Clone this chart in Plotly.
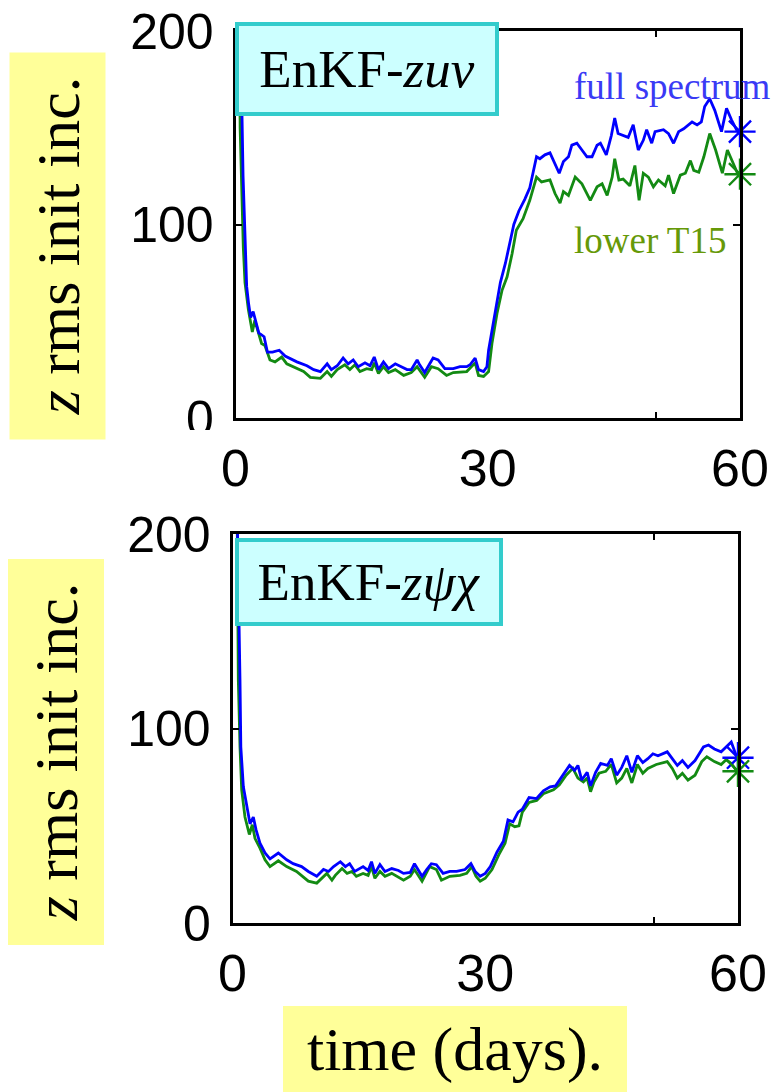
import plotly.graph_objects as go

# ---------------- data ----------------
# Panel 1: EnKF-zuv
t_zuv_full = [0.25, 0.6, 0.9, 1.13, 1.33, 1.56, 1.8, 2.1, 2.49, 2.77, 3.4, 3.8, 4.4, 5.2, 5.9, 7.3, 8.5, 9.3, 10.1, 10.9,
              11.4, 12.1, 12.8, 13.4, 14.0, 14.6, 15.4, 16.0, 16.5, 17.0, 17.6, 18.2, 19.0, 19.8, 20.4, 20.9, 21.6, 21.9, 22.5, 23.1,
              23.5, 24.1, 24.9, 25.9, 26.7, 27.5, 27.9, 28.5, 28.9, 29.5, 29.9, 30.1, 30.5, 31.1, 31.5, 32.1, 32.7, 33.1, 33.7, 34.4,
              35.0, 35.8, 36.2, 36.8, 37.4, 38.0, 38.5, 39.0, 39.6, 40.0, 40.6, 41.2, 41.8, 42.4, 43.0, 43.4, 44.1, 44.7, 45.1, 45.5,
              46.1, 46.7, 47.3, 47.9, 48.5, 48.9, 49.5, 49.9, 50.9, 51.5, 52.1, 52.7, 53.3, 53.9, 54.3, 54.9, 55.4, 55.8, 56.4, 57.0,
              57.8, 58.4, 59.0, 59.7]
z_zuv_full = [400, 200, 125, 93, 68, 59, 52, 55, 48, 44, 42, 34, 34, 35, 32, 29, 27, 25, 24, 28,
              25, 27, 31, 28, 30, 26.5, 28.5, 27, 31.5, 25, 29, 25.5, 28, 26.5, 25, 25, 30, 27.5, 23.5, 28,
              31, 30, 25.5, 25.5, 26.5, 26.5, 27.5, 31, 25, 24, 26.5, 35, 45, 59, 70, 80, 92, 100, 107, 113,
              119, 135, 134, 136, 137, 131.5, 126.5, 132.5, 135, 141, 142, 138.5, 135, 135, 141, 142, 136, 146, 155, 147,
              146, 145, 151.5, 138.5, 143.5, 149, 142, 148, 149, 147, 142, 148, 149.5, 151.5, 153, 151.5, 153, 161, 165, 159,
              148, 160, 154, 148]

t_zuv_low = [0.25, 0.55, 0.93, 1.13, 1.53, 2.0, 2.3, 2.7, 3.1, 3.5, 4.1, 4.7, 5.5, 6.1, 7.3, 8.1, 8.9, 10.1, 10.9, 11.4,
             12.1, 13.0, 13.6, 14.2, 14.8, 15.6, 16.2, 16.5, 17.0, 17.6, 18.2, 19.0, 20.0, 20.9, 21.6, 22.5, 23.3, 24.1, 25.1, 25.9,
             27.5, 28.0, 28.5, 28.9, 29.5, 30.1, 30.5, 31.1, 31.7, 32.3, 32.9, 33.4, 34.2, 35.0, 35.8, 36.4, 37.4, 38.0, 38.6, 39.0,
             39.6, 40.4, 41.2, 42.2, 43.0, 43.6, 44.2, 44.8, 45.1, 45.6, 46.1, 46.9, 47.5, 48.0, 48.5, 49.1, 49.7, 50.3, 51.1, 51.5,
             52.1, 52.9, 53.5, 54.1, 54.5, 55.1, 55.7, 56.4, 57.1, 57.9, 58.5, 59.2, 59.7]
z_zuv_low = [400, 150, 88, 70, 56, 44.5, 50.5, 44, 38.5, 37.5, 30, 29, 31.5, 28, 25.5, 24, 21, 20.5, 24, 21.5,
             25, 27.5, 25, 27.5, 24, 25.5, 25, 28.5, 23, 26.5, 23.5, 25, 22, 23.5, 26.5, 21, 26.5, 25.5, 22, 23.5,
             24, 26.5, 28.5, 22, 21.5, 24, 38.5, 54, 66, 73, 85, 97, 103, 112.5, 124.5, 122, 123, 116, 111, 117,
             115, 124.5, 121, 112.5, 119.5, 121, 115, 124.5, 134, 123, 123.5, 120, 130.5, 112.5, 126.5, 124.5, 119.5, 123, 120, 125.5,
             116, 125.5, 126.5, 133, 128, 127, 135, 147, 138.5, 126.5, 138.5, 131.5, 126.5]

# Panel 2: EnKF-z psi chi
t_zpc_full = [0.25, 0.6, 0.89, 0.99, 1.29, 1.68, 2.08, 2.47, 2.79, 3.26, 3.86, 4.45, 5.44, 6.43, 7.2, 8.2, 9.0, 10.0, 10.8, 11.4,
              12.0, 12.8, 13.4, 13.9, 14.5, 15.5, 16.1, 16.5, 16.9, 17.5, 18.1, 18.9, 19.7, 20.3, 21.1, 21.6, 22.5, 23.05, 23.6, 24.2,
              25.0, 25.8, 26.6, 27.6, 28.3, 28.8, 29.4, 30.0, 30.6, 31.4, 32.15, 32.7, 33.3, 33.9, 34.4, 35.2, 36.1, 36.9, 37.7, 38.35,
              39.2, 40.0, 40.6, 41.0, 41.45, 42.1, 42.5, 43.1, 43.7, 44.5, 44.96, 45.6, 46.2, 46.8, 47.4, 48.06, 48.7, 49.3, 49.9, 50.5,
              51.6, 52.2, 52.8, 53.4, 54.06, 54.9, 55.9, 56.5, 57.2, 58.0, 58.6, 59.2, 59.8]
z_zpc_full = [400, 200, 125, 90.5, 70, 60, 51, 54.5, 48, 41, 36, 33, 36, 32.5, 30.5, 29, 26.5, 24, 27.5, 26.5,
              29, 31.5, 29, 30.5, 26.5, 29, 27, 31.5, 25.5, 30, 26.5, 28, 27, 25.5, 26, 30.5, 24, 27.5, 30.5, 30,
              25.5, 26.5, 26.5, 27.5, 30.5, 26.5, 24, 25.5, 29, 36.5, 42, 53, 52, 57, 58.5, 64.5, 64, 68, 70, 70.5,
              76, 81, 78.5, 81, 73.5, 77.5, 70.5, 77.5, 82, 81, 84.5, 76, 80, 86, 77.5, 86, 82.5, 84.5, 87, 86,
              88, 84.5, 81, 83.5, 80, 83.5, 90.5, 91.5, 89.5, 88, 90.5, 93, 86]

t_zpc_low = [0.25, 0.55, 0.69, 0.89, 1.09, 1.48, 2.0, 2.35, 2.67, 3.26, 3.86, 4.45, 5.44, 6.43, 7.6, 9.0, 10.0, 11.2, 11.8, 12.2,
             13.0, 13.6, 14.2, 14.7, 15.5, 16.1, 16.5, 16.9, 17.5, 18.1, 18.9, 20.3, 21.1, 21.6, 22.5, 23.4, 24.2, 24.8, 25.8, 27.0,
             27.8, 28.4, 28.9, 29.4, 30.0, 30.8, 31.6, 32.35, 32.9, 33.5, 34.0, 34.4, 35.2, 36.1, 36.9, 38.1, 38.8, 39.6, 40.4, 41.0,
             41.65, 42.1, 42.5, 42.9, 43.5, 44.3, 44.96, 45.6, 46.2, 46.8, 47.4, 48.06, 48.7, 49.3, 50.3, 51.6, 52.2, 52.8, 53.4, 54.06,
             54.9, 55.7, 56.3, 57.2, 58.0, 58.6, 59.2, 59.8]
z_zpc_low = [400, 200, 125, 90.5, 68.5, 54.5, 45.5, 50.5, 43.5, 38.5, 32.5, 29, 32, 29, 26.5, 21.5, 20.5, 25.5, 22, 24.5,
             28, 25.5, 26.5, 24, 25.5, 24.5, 29, 23, 26.5, 24, 25.5, 22, 24, 27.5, 21.5, 29, 27.5, 22, 24, 24.5,
             25.5, 29, 24, 21.5, 23, 27.5, 35, 41, 51, 49.5, 50, 57, 62, 63, 66.5, 68.5, 71, 76, 79.5, 74.5,
             72.5, 74.5, 67.5, 72.5, 77, 78, 81.5, 72, 74.5, 79.5, 72, 81.5, 77, 79.5, 81.5, 83, 79.5, 74.5, 77, 73.5,
             76, 83, 85.5, 83, 81.5, 84, 82, 78.5]

# end-point markers (asterisks at day 60)
end_day = [60, 60]
end_zuv = [148, 126]      # full spectrum, lower T15
end_zpc = [85, 78]

assert len(t_zuv_full) == len(z_zuv_full)
assert len(t_zuv_low) == len(z_zuv_low)
assert len(t_zpc_full) == len(z_zpc_full)
assert len(t_zpc_low) == len(z_zpc_low)

x_tickvals = [0, 30, 60]
x_ticktext = ["0", "30", "60"]
y_tickvals = [0, 100, 200]
y_ticktext = ["0", "100", "200"]

# ---------------- styling ----------------
W, H = 776, 1092
BLUE = "#0000FF"
GREEN = "#138A13"
SERIF = "Liberation Serif, Times New Roman, serif"
SANS = "Liberation Sans, Arial, Helvetica, sans-serif"


def px(x):
    return x / W


def py(y):
    return 1 - y / H


fig = go.Figure()

panels = [
    ("x", "y", t_zuv_full, z_zuv_full, t_zuv_low, z_zuv_low, end_zuv),
    ("x2", "y2", t_zpc_full, z_zpc_full, t_zpc_low, z_zpc_low, end_zpc),
]
for xa, ya, tf, zf, tl, zl, ends in panels:
    fig.add_trace(go.Scatter(x=tl, y=zl, mode="lines", line=dict(color=GREEN, width=2.8),
                             xaxis=xa, yaxis=ya, hoverinfo="skip"))
    fig.add_trace(go.Scatter(x=tf, y=zf, mode="lines", line=dict(color=BLUE, width=2.8),
                             xaxis=xa, yaxis=ya, hoverinfo="skip"))
    fig.add_trace(go.Scatter(x=end_day, y=ends, mode="markers",
                             marker=dict(symbol="asterisk-open", size=26,
                                         color=[BLUE, GREEN],
                                         line=dict(width=2.4, color=[BLUE, GREEN])),
                             cliponaxis=False, xaxis=xa, yaxis=ya, hoverinfo="skip"))


def xaxis_cfg(domain, anchor):
    return dict(domain=domain, anchor=anchor, range=[0, 60], showline=True, linecolor="black",
                linewidth=2.6, mirror="ticks", ticks="", tickvals=x_tickvals, ticktext=x_ticktext,
                tickfont=dict(family=SANS, size=52, color="black"), ticklabelstandoff=3,
                minor=dict(tickvals=[50], ticks="inside", ticklen=6, tickwidth=2.2, tickcolor="black"),
                showgrid=False, zeroline=False, fixedrange=True, automargin=False)


def yaxis_cfg(domain, anchor):
    return dict(domain=domain, anchor=anchor, range=[0, 200], showline=True, linecolor="black",
                linewidth=2.6, mirror="ticks", ticks="inside", ticklen=7, tickwidth=2.4,
                tickcolor="black", tickvals=y_tickvals, ticktext=y_ticktext,
                tickfont=dict(family=SANS, size=50, color="black"), ticklabelstandoff=9,
                showgrid=False, zeroline=False, fixedrange=True, automargin=False)


fig.update_layout(
    template="none",
    width=W, height=H, margin=dict(l=0, r=0, t=0, b=0, autoexpand=False),
    paper_bgcolor="white", plot_bgcolor="white", showlegend=False,
    xaxis=xaxis_cfg([px(235.5), px(740)], "y"),
    yaxis=yaxis_cfg([py(418), py(31)], "x"),
    xaxis2=xaxis_cfg([px(232.5), px(738)], "y2"),
    yaxis2=yaxis_cfg([py(923), py(534)], "x2"),
)

annotations = [
    # panel labels
    dict(text="EnKF-<i>zuv</i>", x=px(367), y=py(69), width=254, height=84,
         font=dict(family=SERIF, size=53, color="black")),
    dict(text="EnKF-<i>zψχ</i>", x=px(369), y=py(582), width=258, height=78,
         font=dict(family=SERIF, size=53, color="black")),
]
for a in annotations:
    a.update(xref="paper", yref="paper", xanchor="center", yanchor="middle", showarrow=False,
             bgcolor="#CCFFFF", bordercolor="#33CCCC", borderwidth=4, borderpad=1)

annotations += [
    dict(text="full spectrum", x=px(672), y=py(87), xref="paper", yref="paper", showarrow=False,
         xanchor="center", yanchor="middle", font=dict(family=SERIF, size=37, color="#3A3AF5")),
    dict(text="lower T15", x=px(650), y=py(240), xref="paper", yref="paper", showarrow=False,
         xanchor="center", yanchor="middle", font=dict(family=SERIF, size=37, color="#669908")),
    # axis titles on yellow boxes
    dict(text="<i>z</i> rms init inc.", x=px(58), y=py(246.5), xref="paper", yref="paper",
         showarrow=False, textangle=-90, width=387, height=96, bgcolor="#FFFF99",
         borderpad=0, borderwidth=0, xanchor="center", yanchor="middle",
         font=dict(family=SERIF, size=62, color="black")),
    dict(text="<i>z</i> rms init inc.", x=px(56), y=py(752), xref="paper", yref="paper",
         showarrow=False, textangle=-90, width=386, height=96, bgcolor="#FFFF99",
         borderpad=0, borderwidth=0, xanchor="center", yanchor="middle",
         font=dict(family=SERIF, size=62, color="black")),
    dict(text="time (days).", x=px(455), y=py(1049), xref="paper", yref="paper",
         showarrow=False, width=344, height=86, bgcolor="#FFFF99", borderpad=0, borderwidth=0,
         xanchor="center", yanchor="middle", font=dict(family=SERIF, size=62, color="black")),
]
fig.update_layout(annotations=annotations)

# white overlay that clips the lower half of the top panel's "0" label (as in the slide)
fig.add_shape(type="rect", xref="paper", yref="paper", x0=px(100), x1=px(232), y0=py(447), y1=py(430),
              fillcolor="white", line=dict(width=0), layer="above")

fig.write_html("out.html")
